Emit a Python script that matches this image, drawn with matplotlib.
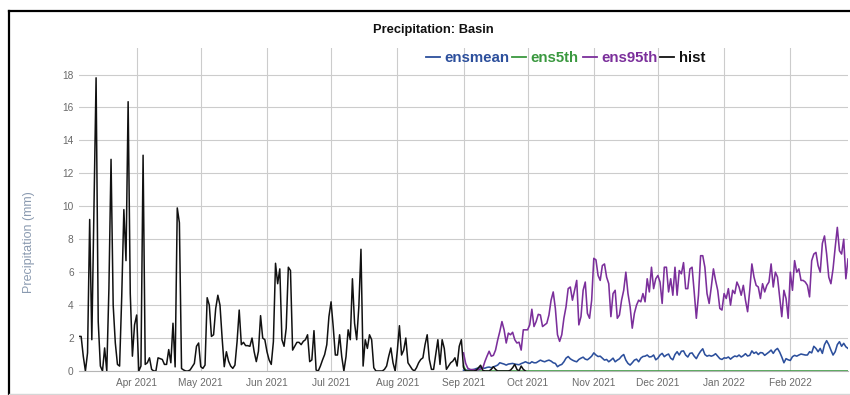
import matplotlib
matplotlib.use("Agg")
import matplotlib.pyplot as plt
import matplotlib.dates as mdates
from matplotlib.lines import Line2D
import pandas as pd

plt.rcParams['font.family'] = ['Liberation Sans', 'DejaVu Sans']

# ---------------- data ----------------
title = "Precipitation: Basin"
y_label = "Precipitation (mm)"
series_names = ["ensmean", "ens5th", "ens95th", "hist"]
hist_start = "2021-03-05"
fcst_start = "2021-09-01"
y_ticks = [0, 2, 4, 6, 8, 10, 12, 14, 16, 18]

hist = [
    2.1, 2.1, 0.9, 0.0, 1.1, 9.2, 1.9, 9.8, 17.8, 3.0,
    0.3, 0.0, 1.4, 0.0, 5.0, 12.85, 4.0, 1.7, 0.4, 0.3,
    4.5, 9.8, 6.7, 16.35, 4.7, 0.9, 2.8, 3.4, 0.0, 0.3,
    13.1, 0.4, 0.5, 0.8, 0.1, 0.0, 0.0, 0.8, 0.75, 0.7,
    0.4, 0.4, 1.3, 0.5, 2.9, 0.25, 9.9, 9.0, 0.15, 0.06,
    0.0, 0.0, 0.06, 0.26, 0.46, 1.5, 1.7, 0.26, 0.16, 0.36,
    4.45, 4.0, 2.1, 2.2, 3.8, 4.6, 4.0, 2.0, 0.26, 1.17,
    0.6, 0.3, 0.16, 0.36, 1.78, 3.7, 1.6, 1.74, 1.54, 1.54,
    1.5, 2.0, 1.17, 0.57, 1.2, 3.36, 2.0, 1.9, 1.17, 0.67,
    0.4, 1.78, 6.54, 5.3, 6.2, 1.9, 1.5, 2.6, 6.3, 6.1,
    1.27, 1.5, 1.74, 1.74, 1.6, 1.8, 1.9, 2.2, 0.57, 0.67,
    2.45, 0.06, 0.0, 0.3, 0.67, 1.0, 1.6, 3.3, 4.2, 2.7,
    0.97, 0.97, 2.2, 0.87, 0.0, 0.87, 2.5, 1.9, 5.6, 2.9,
    1.9, 3.9, 7.39, 0.3, 1.9, 1.37, 2.2, 1.9, 0.2, 0.0,
    0.0, 0.0, 0.0, 0.1, 0.3, 0.9, 1.4, 0.5, 0.0, 1.2,
    2.75, 0.97, 1.27, 2.0, 0.5, 0.3, 0.1, 0.0, 0.2, 0.5,
    0.7, 0.8, 1.6, 2.2, 0.7, 0.1, 0.1, 1.0, 1.9, 0.4,
    1.9, 1.37, 0.1, 0.3, 0.5, 0.6, 0.8, 0.3, 1.5, 1.9,
    0.2, 0.0, 0.0, 0.0, 0.0, 0.0, 0.05, 0.2, 0.35, 0.05,
    0.0, 0.0, 0.0, 0.1, 0.26, 0.1, 0.0, 0.0, 0.0, 0.0,
    0.0, 0.0, 0.05, 0.2, 0.4, 0.1, 0.0, 0.3, 0.1, 0.0,
]

ensmean = [
    0.05, 0.05, 0.05, 0.06, 0.08, 0.1, 0.15, 0.18, 0.2, 0.18,
    0.17, 0.22, 0.24, 0.2, 0.25, 0.3, 0.36, 0.5, 0.46, 0.42,
    0.36, 0.42, 0.44, 0.46, 0.42, 0.4, 0.38, 0.45, 0.5, 0.56,
    0.5, 0.46, 0.56, 0.5, 0.5, 0.58, 0.66, 0.6, 0.56, 0.62,
    0.66, 0.6, 0.5, 0.46, 0.26, 0.35, 0.4, 0.56, 0.78, 0.88,
    0.74, 0.66, 0.6, 0.56, 0.7, 0.78, 0.84, 0.72, 0.68, 0.78,
    0.9, 1.1, 0.97, 0.88, 0.9, 0.78, 0.66, 0.7, 0.56, 0.66,
    0.78, 0.56, 0.66, 0.74, 0.9, 1.0, 0.66, 0.46, 0.36, 0.5,
    0.66, 0.72, 0.56, 0.78, 0.88, 0.9, 0.97, 0.85, 0.87, 0.97,
    0.68, 0.78, 0.97, 1.07, 0.87, 0.97, 1.03, 0.78, 0.68, 1.0,
    1.17, 0.97, 1.2, 1.22, 0.97, 0.85, 1.07, 1.1, 0.9, 0.75,
    1.0, 1.2, 1.35, 1.0, 0.9, 0.95, 0.9, 0.95, 1.05, 0.9,
    0.75, 0.7, 0.8, 0.78, 0.85, 0.72, 0.83, 0.91, 0.87, 0.97,
    0.85, 0.93, 1.05, 0.91, 0.95, 1.22, 1.07, 1.15, 1.0, 1.12,
    1.1, 0.95, 1.05, 1.15, 1.27, 1.07, 1.27, 1.37, 1.15, 0.85,
    0.5, 0.75, 0.68, 0.64, 0.87, 0.95, 0.9, 0.97, 1.03, 1.0,
    0.97, 0.97, 1.17, 1.1, 1.5, 1.37, 1.17, 1.37, 1.07, 1.6,
    1.84, 1.6, 1.27, 0.97, 1.17, 1.6, 1.78, 1.5, 1.68, 1.47,
    1.37,
]

ens5th = [
    0.3, 0.05, 0.0, 0.0, 0.0, 0.0, 0.0, 0.0, 0.0, 0.0,
    0.0, 0.0, 0.0, 0.0, 0.0, 0.0, 0.0, 0.0, 0.0, 0.0,
    0.0, 0.0, 0.0, 0.0, 0.0, 0.0, 0.0, 0.0, 0.0, 0.0,
    0.0, 0.0, 0.0, 0.0, 0.0, 0.0, 0.0, 0.0, 0.0, 0.0,
    0.0, 0.0, 0.0, 0.0, 0.0, 0.0, 0.0, 0.0, 0.0, 0.0,
    0.0, 0.0, 0.0, 0.0, 0.0, 0.0, 0.0, 0.0, 0.0, 0.0,
    0.0, 0.0, 0.0, 0.0, 0.0, 0.0, 0.0, 0.0, 0.0, 0.0,
    0.0, 0.0, 0.0, 0.0, 0.0, 0.0, 0.0, 0.0, 0.0, 0.0,
    0.0, 0.0, 0.0, 0.0, 0.0, 0.0, 0.0, 0.0, 0.0, 0.0,
    0.0, 0.0, 0.0, 0.0, 0.0, 0.0, 0.0, 0.0, 0.0, 0.0,
    0.0, 0.0, 0.0, 0.0, 0.0, 0.0, 0.0, 0.0, 0.0, 0.0,
    0.0, 0.0, 0.0, 0.0, 0.0, 0.0, 0.0, 0.0, 0.0, 0.0,
    0.0, 0.0, 0.0, 0.0, 0.0, 0.0, 0.0, 0.0, 0.0, 0.0,
    0.0, 0.0, 0.0, 0.0, 0.0, 0.0, 0.0, 0.0, 0.0, 0.0,
    0.0, 0.0, 0.0, 0.0, 0.0, 0.0, 0.0, 0.0, 0.0, 0.0,
    0.0, 0.0, 0.0, 0.0, 0.0, 0.0, 0.0, 0.0, 0.0, 0.0,
    0.0, 0.0, 0.0, 0.0, 0.0, 0.0, 0.0, 0.0, 0.0, 0.0,
    0.0, 0.0, 0.0, 0.0, 0.0, 0.0, 0.0, 0.0, 0.0, 0.0,
    0.0,
]

ens95th = [
    1.1, 0.47, 0.17, 0.1, 0.08, 0.08, 0.06, 0.08, 0.12, 0.17,
    0.57, 0.9, 1.2, 0.9, 0.95, 1.27, 1.88, 2.4, 3.0, 2.5,
    1.7, 2.3, 2.2, 2.35, 1.9, 1.7, 1.75, 1.27, 2.5, 2.5,
    2.5, 2.8, 3.75, 2.7, 3.0, 3.44, 3.4, 2.7, 2.8, 2.9,
    3.4, 4.3, 4.8, 3.8, 2.2, 1.8, 2.2, 3.2, 3.9, 5.0,
    5.1, 4.3, 4.9, 5.5, 2.8, 3.3, 4.9, 5.4, 3.5, 3.2,
    4.3, 6.84, 6.75, 5.8, 5.5, 6.4, 6.5, 5.7, 5.3, 3.3,
    4.7, 4.9, 3.2, 3.4, 4.3, 4.9, 6.0, 4.7, 3.9, 2.6,
    3.5, 4.0, 4.3, 4.2, 4.7, 4.2, 5.6, 4.8, 6.3, 5.0,
    5.6, 5.8, 5.4, 4.1, 6.3, 6.3, 4.8, 5.6, 4.6, 6.3,
    4.6, 6.1, 5.9, 6.58, 5.0, 5.0, 6.2, 6.3, 4.8, 3.2,
    4.6, 7.0, 7.0, 6.3, 4.7, 4.1, 5.1, 6.2, 5.5, 4.9,
    3.8, 3.7, 4.7, 4.4, 5.0, 4.0, 4.9, 4.7, 5.4, 5.1,
    4.6, 5.2, 4.3, 3.6, 4.9, 6.5, 5.7, 5.2, 5.1, 4.4,
    5.3, 4.8, 5.2, 5.4, 6.5, 5.1, 6.0, 5.7, 4.5, 3.3,
    4.9, 4.4, 3.2, 6.0, 4.9, 6.7, 6.0, 6.2, 5.5, 5.5,
    5.4, 5.2, 4.5, 6.7, 7.1, 7.2, 6.4, 6.0, 7.75, 8.2,
    7.1, 5.7, 5.3, 6.2, 7.5, 8.72, 7.3, 7.1, 8.0, 5.6,
    6.8,
]

colors = {"ensmean": "#2c4f9c", "ens5th": "#3a983f",
          "ens95th": "#7b2f9b", "hist": "#111111"}

# ---------------- figure ----------------
W, H = 850, 395
fig = plt.figure(figsize=(W / 100, H / 100), dpi=100)
fig.patch.set_facecolor("white")

def fx(px):
    return px / W

def fy(py):
    return 1 - py / H

ax_left, ax_right, ax_top, ax_bottom = 79, 848, 48, 371
ax = fig.add_axes([fx(ax_left), fy(ax_bottom), (ax_right - ax_left) / W,
                   (ax_bottom - ax_top) / H])

hist_dates = pd.date_range(hist_start, periods=len(hist), freq="D")
fcst_dates = pd.date_range(fcst_start, periods=len(ensmean), freq="D")

ax.plot(fcst_dates, ensmean, color=colors["ensmean"], lw=1.15, zorder=3)
ax.plot(fcst_dates, ens5th, color=colors["ens5th"], lw=1.15, zorder=3)
ax.plot(fcst_dates, ens95th, color=colors["ens95th"], lw=1.15, zorder=3)
ax.plot(hist_dates, hist, color=colors["hist"], lw=1.1, zorder=4)

ax.set_xlim(pd.Timestamp("2021-03-05"), pd.Timestamp("2022-02-28"))
ax.set_ylim(0, 19.61)
ax.set_yticks(y_ticks)
ax.xaxis.set_major_locator(mdates.MonthLocator())
ax.xaxis.set_major_formatter(mdates.DateFormatter("%b %Y"))

ax.grid(True, color="#cccccc", lw=0.8)
ax.set_axisbelow(True)
for s in ["top", "right", "left"]:
    ax.spines[s].set_visible(False)
ax.spines["bottom"].set_color("#b5b5b5")
ax.spines["bottom"].set_linewidth(0.8)
ax.tick_params(axis="both", length=0, labelsize=7.3, labelcolor="#6a6a6a")
ax.tick_params(axis="y", pad=3.8)
ax.tick_params(axis="x", pad=5.0)

# y label
fig.text(fx(29), fy(242), y_label, rotation=90, ha="center", va="center",
         fontsize=9, color="#8a9ab0")

# title
fig.text(fx(433.3), fy(33.3), title, ha="center", va="baseline",
         fontsize=9.3, fontweight="bold", color="#111111")

# legend (manual, Highcharts style)
leg_items = [
    ("ensmean", 426, 444.3),
    ("ens5th", 512, 530.7),
    ("ens95th", 582.7, 601),
    ("hist", 660, 679.3),
]
for name, lx, tx in leg_items:
    fig.add_artist(Line2D([fx(lx), fx(lx + 14)], [fy(56.7), fy(56.7)],
                          transform=fig.transFigure, color=colors[name],
                          lw=1.3))
    fig.text(fx(tx), fy(61.8), name, ha="left", va="baseline",
             fontsize=10.8, fontweight="bold", color=colors[name])

# outer frame (black left/top, light bottom)
fig.add_artist(Line2D([fx(9), fx(9)], [fy(11), fy(395)],
                      transform=fig.transFigure, color="black", lw=1.6))
fig.add_artist(Line2D([fx(9), fx(850)], [fy(11), fy(11)],
                      transform=fig.transFigure, color="black", lw=1.6))
fig.add_artist(Line2D([fx(9), fx(850)], [fy(393.5), fy(393.5)],
                      transform=fig.transFigure, color="#d6d6d6", lw=1.0))

fig.savefig("out.png", dpi=100, facecolor="white")
